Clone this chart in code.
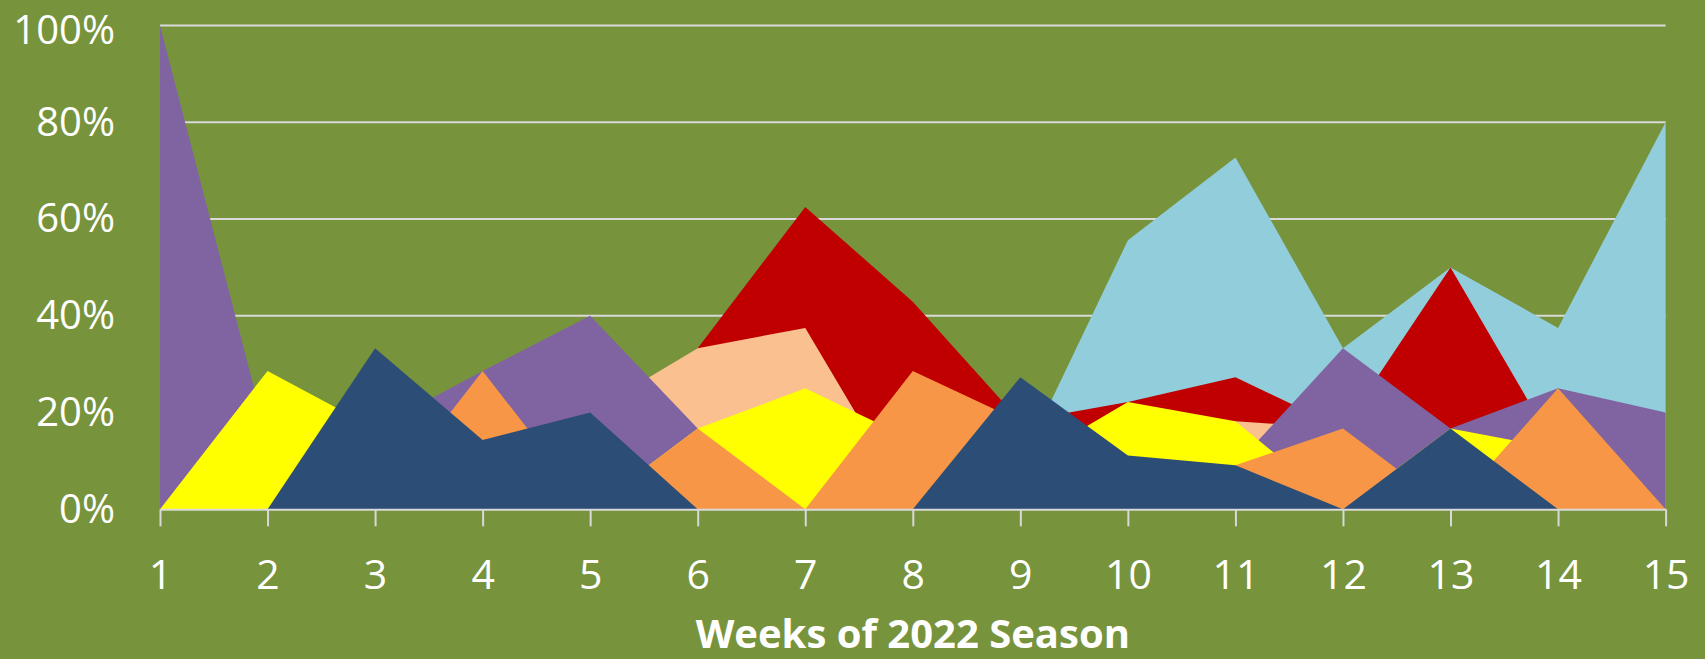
<!DOCTYPE html>
<html>
<head>
<meta charset="utf-8">
<script src="https://cdn.jsdelivr.net/npm/d3@7"></script>
<style>
  html, body { margin: 0; padding: 0; background: #77933c; }
  .chart text { font-family: "Open Sans", "Noto Sans", sans-serif; fill: #ffffff; }
</style>
</head>
<body>
<div class="chart"></div>
<script>
// weeks on the x axis
const weeks = [1, 2, 3, 4, 5, 6, 7, 8, 9, 10, 11, 12, 13, 14, 15]
const yTicks = [0, 0.2, 0.4, 0.6, 0.8, 1]
const yTickLabels = ["0%", "20%", "40%", "60%", "80%", "100%"]
const xTitle = "Weeks of 2022 Season"

// one list per series, share per week (drawn back to front)
const lightBlue = [0, 0, 0, 0, 0, 0, 0, 0, 0.091, 0.556, 0.727, 0.333, 0.5, 0.375, 0.8]
const red = [0, 0, 0, 0, 0, 0.333, 0.625, 0.429, 0.182, 0.222, 0.273, 0.167, 0.5, 0.118, 0]
const peach = [0, 0, 0, 0, 0.2, 0.333, 0.375, 0, 0, 0.111, 0.182, 0.167, 0, 0, 0]
const purple = [1, 0.143, 0.167, 0.286, 0.4, 0.167, 0, 0, 0, 0, 0.091, 0.333, 0.167, 0.25, 0.2]
const yellow = [0, 0.286, 0.167, 0, 0, 0.167, 0.25, 0.143, 0.091, 0.222, 0.182, 0, 0.167, 0.125, 0]
const orange = [0, 0, 0, 0.286, 0, 0.167, 0, 0.286, 0.182, 0, 0.091, 0.167, 0, 0.25, 0]
const darkBlue = [0, 0, 0.333, 0.143, 0.2, 0, 0, 0, 0.273, 0.111, 0.091, 0, 0.167, 0, 0]

const series = [
  { values: lightBlue, color: "#92cddc" },
  { values: red, color: "#c00000" },
  { values: peach, color: "#fac090" },
  { values: purple, color: "#8064a2" },
  { values: yellow, color: "#ffff00" },
  { values: orange, color: "#f79646" },
  { values: darkBlue, color: "#2c4d75" },
]

const width = 1705
const height = 659
const margin = { top: 25.5, right: 39.4, bottom: 149.7, left: 160 }

const svg = d3
  .select(".chart")
  .append("svg")
  .attr("width", width)
  .attr("height", height)
  .attr("viewBox", [0, 0, width, height])

svg.append("rect").attr("width", width).attr("height", height).attr("fill", "#77933c")

const x = d3
  .scaleLinear()
  .domain([1, 15])
  .range([margin.left, width - margin.right])

const y = d3
  .scaleLinear()
  .domain([0, 1])
  .range([height - margin.bottom, margin.top])

// horizontal gridlines, under the areas
svg
  .append("g")
  .selectAll("line")
  .data(yTicks.slice(1))
  .join("line")
  .attr("x1", x(1))
  .attr("x2", x(15))
  .attr("y1", (d) => y(d))
  .attr("y2", (d) => y(d))
  .attr("stroke", "#d9d9d9")
  .attr("stroke-width", 2)

// overlapping areas
const area = d3
  .area()
  .x((d, i) => x(weeks[i]))
  .y0(y(0))
  .y1((d) => y(d))

svg
  .append("g")
  .selectAll("path")
  .data(series)
  .join("path")
  .attr("d", (s) => area(s.values))
  .attr("fill", (s) => s.color)

// x axis
const xAxis = svg
  .append("g")
  .attr("transform", `translate(0, ${y(0)})`)
  .call(
    d3
      .axisBottom(x)
      .tickValues(weeks)
      .tickFormat(d3.format("d"))
      .tickSize(17)
      .tickSizeOuter(0)
      .tickPadding(34),
  )
xAxis.select(".domain").attr("stroke", "#d9d9d9").attr("stroke-width", 2)
xAxis.selectAll(".tick line").attr("stroke", "#d9d9d9").attr("stroke-width", 2)
xAxis
  .selectAll(".tick text")
  .attr("fill", "#ffffff")
  .attr("font-size", "41px")
  .attr("font-family", "'Open Sans', sans-serif")

// y axis labels
const yAxis = svg
  .append("g")
  .attr("transform", `translate(${x(1)}, 0)`)
  .call(
    d3
      .axisLeft(y)
      .tickValues(yTicks)
      .tickFormat((d, i) => yTickLabels[i])
      .tickSize(0)
      .tickPadding(45),
  )
yAxis.select(".domain").remove()
yAxis
  .selectAll(".tick text")
  .attr("fill", "#ffffff")
  .attr("font-size", "40px")
  .attr("font-family", "'Open Sans', sans-serif")
// top label would poke out of the picture, nudge it down a bit
yAxis
  .selectAll(".tick text")
  .filter((d) => d === 1)
  .attr("dy", "0.46em")

// axis title
svg
  .append("text")
  .attr("x", (x(1) + x(15)) / 2)
  .attr("y", 648)
  .attr("text-anchor", "middle")
  .attr("font-size", "40px")
  .attr("font-weight", "bold")
  .text(xTitle)
</script>
</body>
</html>
